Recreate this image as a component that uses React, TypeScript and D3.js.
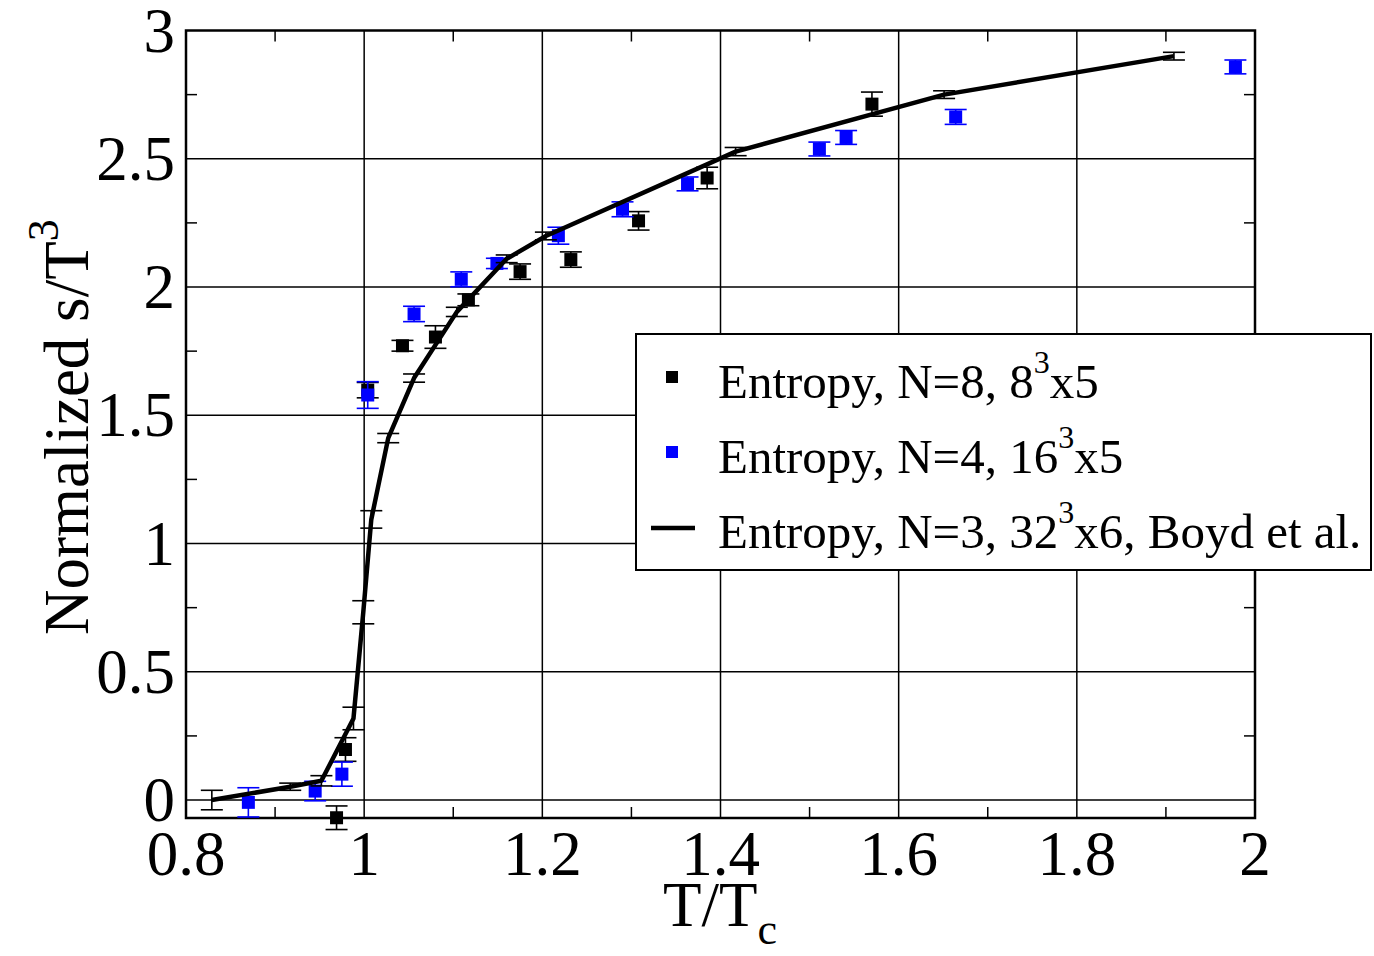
import { useEffect, useRef } from 'react'
import * as d3 from 'd3'

// N=8, 8^3x5 lattice (black squares)
const n8X = [0.969, 0.979, 1.004, 1.043, 1.08, 1.117, 1.175, 1.232, 1.308, 1.385, 1.57]
const n8Y = [-0.069, 0.197, 1.598, 1.771, 1.805, 1.95, 2.06, 2.107, 2.258, 2.425, 2.713]
const n8Err = [0.046, 0.046, 0.03, 0.021, 0.044, 0.023, 0.03, 0.03, 0.036, 0.042, 0.047]

// N=4, 16^3x5 lattice (blue squares)
const n4X = [0.87, 0.945, 0.975, 1.004, 1.056, 1.109, 1.149, 1.218, 1.29, 1.363, 1.511, 1.541, 1.664, 1.978]
const n4Y = [-0.009, 0.035, 0.101, 1.579, 1.895, 2.03, 2.092, 2.2, 2.303, 2.402, 2.538, 2.583, 2.663, 2.858]
const n4Err = [0.057, 0.038, 0.047, 0.052, 0.03, 0.029, 0.02, 0.033, 0.029, 0.027, 0.027, 0.027, 0.029, 0.027]

// N=3, 32^3x6, Boyd et al. (line)
const boydX = [0.829, 0.917, 0.952, 0.988, 0.999, 1.008, 1.027, 1.056, 1.104, 1.16, 1.204, 1.417, 1.651, 1.909]
const boydY = [0.0, 0.052, 0.075, 0.318, 0.732, 1.094, 1.411, 1.645, 1.903, 2.11, 2.199, 2.528, 2.75, 2.9]
const boydErr = [0.038, 0.014, 0.02, 0.044, 0.045, 0.034, 0.018, 0.016, 0.018, 0.015, 0.015, 0.016, 0.015, 0.015]

const xTicks = [0.8, 1, 1.2, 1.4, 1.6, 1.8, 2]
const xMinor = [0.9, 1.1, 1.3, 1.5, 1.7, 1.9]
const yTicks = [0, 0.5, 1, 1.5, 2, 2.5, 3]
const yMinor = [0.25, 0.75, 1.25, 1.75, 2.25, 2.75]

const W = 1374
const H = 956
const FONT = '"Liberation Serif", "DejaVu Serif", serif'
const BLUE = '#0000ff'

export default function App() {
  const svgRef = useRef<SVGSVGElement | null>(null)

  useEffect(() => {
    document.body.style.margin = '0'
    const svg = d3.select(svgRef.current)
    svg.selectAll('*').remove()

    const left = 186, right = 1255, top = 30.5, bottom = 818
    const x = d3.scaleLinear().domain([0.8, 2.0]).range([left, right])
    const y = d3.scaleLinear().domain([-0.07, 3]).range([bottom, top])

    const g = svg.append('g')

    // grid
    g.selectAll('.gx')
      .data(xTicks.slice(1, -1))
      .join('line')
      .attr('x1', (d) => x(d)).attr('x2', (d) => x(d))
      .attr('y1', top).attr('y2', bottom)
      .attr('stroke', '#000').attr('stroke-width', 1.5)
    g.selectAll('.gy')
      .data(yTicks.slice(0, -1))
      .join('line')
      .attr('x1', left).attr('x2', right)
      .attr('y1', (d) => y(d)).attr('y2', (d) => y(d))
      .attr('stroke', '#000').attr('stroke-width', 1.5)

    // minor ticks, inward on all four sides
    const tl = 11
    xMinor.forEach((v) => {
      g.append('line').attr('x1', x(v)).attr('x2', x(v)).attr('y1', bottom).attr('y2', bottom - tl)
        .attr('stroke', '#000').attr('stroke-width', 1.5)
      g.append('line').attr('x1', x(v)).attr('x2', x(v)).attr('y1', top).attr('y2', top + tl)
        .attr('stroke', '#000').attr('stroke-width', 1.5)
    })
    yMinor.forEach((v) => {
      g.append('line').attr('x1', left).attr('x2', left + tl).attr('y1', y(v)).attr('y2', y(v))
        .attr('stroke', '#000').attr('stroke-width', 1.5)
      g.append('line').attr('x1', right).attr('x2', right - tl).attr('y1', y(v)).attr('y2', y(v))
        .attr('stroke', '#000').attr('stroke-width', 1.5)
    })

    // frame
    g.append('rect')
      .attr('x', left).attr('y', top)
      .attr('width', right - left).attr('height', bottom - top)
      .attr('fill', 'none').attr('stroke', '#000').attr('stroke-width', 2.5)

    // tick labels
    g.selectAll('.xl')
      .data(xTicks)
      .join('text')
      .attr('x', (d) => x(d)).attr('y', 875)
      .attr('text-anchor', 'middle')
      .attr('font-family', FONT).attr('font-size', 63)
      .text((d) => String(d))
    g.selectAll('.yl')
      .data(yTicks)
      .join('text')
      .attr('x', 175).attr('y', (d) => y(d) + 21)
      .attr('text-anchor', 'end')
      .attr('font-family', FONT).attr('font-size', 63)
      .text((d) => String(d))

    // axis titles
    const xt = g.append('text')
      .attr('x', 663).attr('y', 926)
      .attr('font-family', FONT).attr('font-size', 63)
    xt.append('tspan').text('T/T')
    xt.append('tspan').attr('dy', 18).attr('font-size', 44).text('c')

    const yt = g.append('text')
      .attr('transform', 'translate(88,635) rotate(-90)')
      .attr('font-family', FONT).attr('font-size', 63)
    yt.append('tspan').text('Normalized s/T')
    yt.append('tspan').attr('dy', -30).attr('font-size', 44).text('3')

    // error bars + square markers
    const cap = 11
    const drawErr = (xs: number[], ys: number[], es: number[], color: string) => {
      const eg = g.append('g').attr('stroke', color).attr('stroke-width', 1.6)
      xs.forEach((xv, i) => {
        const cx = x(xv)
        const y0 = y(ys[i] - es[i]), y1 = y(ys[i] + es[i])
        eg.append('line').attr('x1', cx).attr('x2', cx).attr('y1', y0).attr('y2', y1)
        eg.append('line').attr('x1', cx - cap).attr('x2', cx + cap).attr('y1', y0).attr('y2', y0)
        eg.append('line').attr('x1', cx - cap).attr('x2', cx + cap).attr('y1', y1).attr('y2', y1)
      })
    }
    const drawSquares = (xs: number[], ys: number[], color: string) => {
      const s = 13
      g.append('g').selectAll('rect')
        .data(xs.map((xv, i) => [xv, ys[i]]))
        .join('rect')
        .attr('x', (d) => x(d[0]) - s / 2).attr('y', (d) => y(d[1]) - s / 2)
        .attr('width', s).attr('height', s)
        .attr('fill', color)
    }

    drawErr(n8X, n8Y, n8Err, '#000')
    drawSquares(n8X, n8Y, '#000')
    drawErr(n4X, n4Y, n4Err, BLUE)
    drawSquares(n4X, n4Y, BLUE)

    drawErr(boydX, boydY, boydErr, '#000')
    const line = d3.line<number>()
      .x((d) => x(d))
      .y((_, i) => y(boydY[i]))
    g.append('path')
      .datum(boydX)
      .attr('d', line)
      .attr('fill', 'none')
      .attr('stroke', '#000')
      .attr('stroke-width', 4.5)
      .attr('stroke-linejoin', 'round')

    // legend
    const lg = g.append('g')
    lg.append('rect')
      .attr('x', 636).attr('y', 334).attr('width', 735).attr('height', 236)
      .attr('fill', '#fff').attr('stroke', '#000').attr('stroke-width', 2)
    const rows = [
      { base: 'Entropy, N=8, 8', rest: 'x5', kind: 'sq', color: '#000' },
      { base: 'Entropy, N=4, 16', rest: 'x5', kind: 'sq', color: BLUE },
      { base: 'Entropy, N=3, 32', rest: 'x6, Boyd et al.', kind: 'line', color: '#000' },
    ]
    rows.forEach((r, i) => {
      const cy = 377 + i * 75
      if (r.kind === 'sq') {
        lg.append('rect').attr('x', 666).attr('y', cy - 6).attr('width', 12).attr('height', 12).attr('fill', r.color)
      } else {
        lg.append('line').attr('x1', 651).attr('x2', 695).attr('y1', cy + 1).attr('y2', cy + 1)
          .attr('stroke', r.color).attr('stroke-width', 4.5)
      }
      const t = lg.append('text')
        .attr('x', 718).attr('y', cy + 21)
        .attr('font-family', FONT).attr('font-size', 49)
      t.append('tspan').text(r.base)
      t.append('tspan').attr('dy', -25).attr('font-size', 32).text('3')
      t.append('tspan').attr('dy', 25).text(r.rest)
    })

    return () => {
      svg.selectAll('*').remove()
    }
  }, [])

  return (
    <div style={{ width: W, height: H, background: '#fff' }}>
      <svg ref={svgRef} width={W} height={H} style={{ display: 'block' }} />
    </div>
  )
}
